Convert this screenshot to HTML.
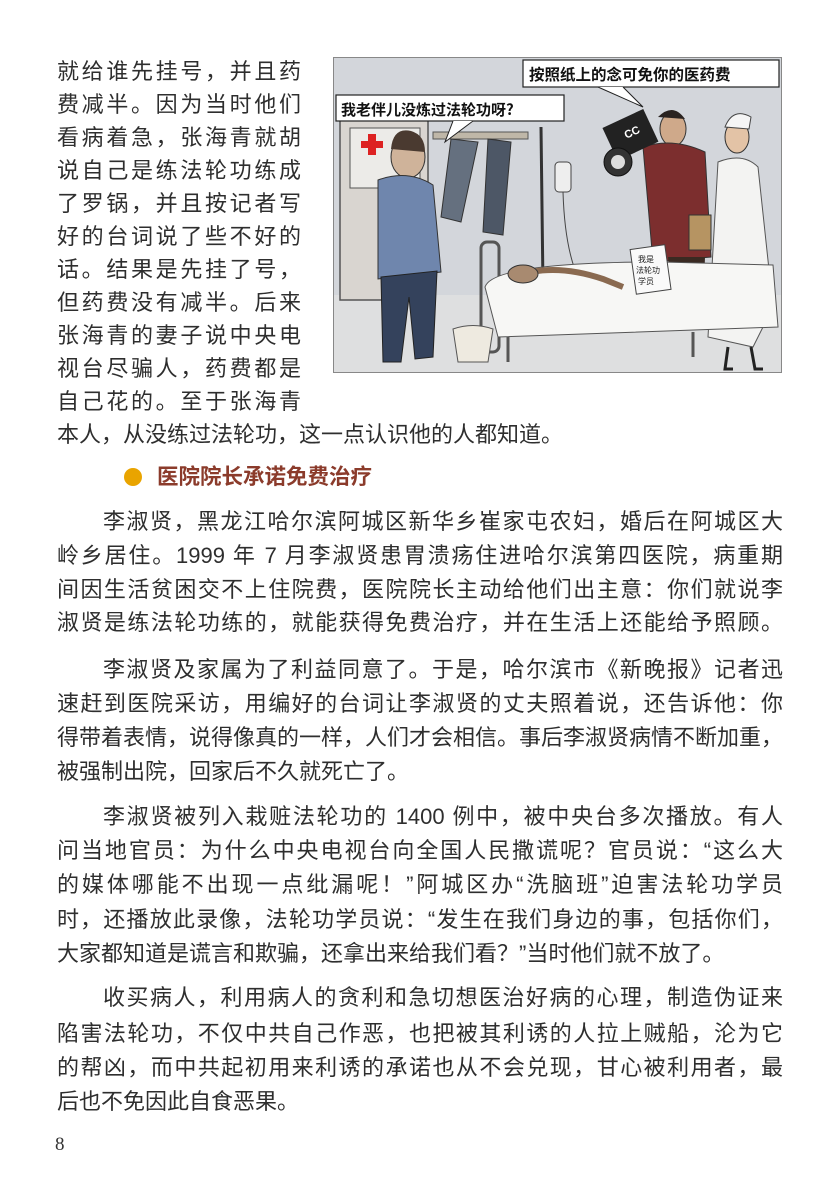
<!DOCTYPE html>
<html><head><meta charset="utf-8">
<style>
html,body{margin:0;padding:0;background:#fff;}
body{width:839px;height:1190px;position:relative;overflow:hidden;font-family:"Liberation Sans","Noto Sans CJK SC",sans-serif;color:#2e2e2e;}
.l{position:absolute;font-size:22px;line-height:26px;white-space:nowrap;}
.j{text-align:justify;text-align-last:justify;white-space:normal;}
.c{left:57px;width:244px;}
.f{left:57px;width:726px;}
.i{left:103px;width:680px;}
</style></head><body>
<div>
<div>
<div class="l c j" style="top:59px">就给谁先挂号，并且药</div>
<div class="l c j" style="top:92px">费减半。因为当时他们</div>
<div class="l c j" style="top:125px">看病着急，张海青就胡</div>
<div class="l c j" style="top:158px">说自己是练法轮功练成</div>
<div class="l c j" style="top:191px">了罗锅，并且按记者写</div>
<div class="l c j" style="top:224px">好的台词说了些不好的</div>
<div class="l c j" style="top:257px">话。结果是先挂了号，</div>
<div class="l c j" style="top:290px">但药费没有减半。后来</div>
<div class="l c j" style="top:323px">张海青的妻子说中央电</div>
<div class="l c j" style="top:356px">视台尽骗人，药费都是</div>
<div class="l c j" style="top:389px">自己花的。至于张海青</div>
</div>
<div class="l" style="top:422px;left:57px">本人，从没练过法轮功，这一点认识他的人都知道。</div>

<div style="position:absolute;left:123px;top:464px;height:26px;">
<span style="position:absolute;left:1px;top:4px;width:18px;height:18px;border-radius:50%;background:#e9a400;"></span>
<span style="position:absolute;left:34px;top:0;font-size:21.5px;line-height:26px;font-weight:bold;color:#8b3b2b;white-space:nowrap;">医院院长承诺免费治疗</span>
</div>

<div>
<div class="l i j" style="top:509px">李淑贤，黑龙江哈尔滨阿城区新华乡崔家屯农妇，婚后在阿城区大</div>
<div class="l f j" style="top:543px">岭乡居住。1999 年 7 月李淑贤患胃溃疡住进哈尔滨第四医院，病重期</div>
<div class="l f j" style="top:577px">间因生活贫困交不上住院费，医院院长主动给他们出主意：你们就说李</div>
<div class="l f j" style="top:610px">淑贤是练法轮功练的，就能获得免费治疗，并在生活上还能给予照顾。</div>
</div>
<div>
<div class="l i j" style="top:657px">李淑贤及家属为了利益同意了。于是，哈尔滨市《新晚报》记者迅</div>
<div class="l f j" style="top:691px">速赶到医院采访，用编好的台词让李淑贤的丈夫照着说，还告诉他：你</div>
<div class="l f j" style="top:725px">得带着表情，说得像真的一样，人们才会相信。事后李淑贤病情不断加重，</div>
<div class="l f" style="top:759px">被强制出院，回家后不久就死亡了。</div>
</div>
<div>
<div class="l i j" style="top:804px">李淑贤被列入栽赃法轮功的 1400 例中，被中央台多次播放。有人</div>
<div class="l f j" style="top:838px">问当地官员：为什么中央电视台向全国人民撒谎呢？官员说：“这么大</div>
<div class="l f j" style="top:872px">的媒体哪能不出现一点纰漏呢！”阿城区办“洗脑班”迫害法轮功学员</div>
<div class="l f j" style="top:907px">时，还播放此录像，法轮功学员说：“发生在我们身边的事，包括你们，</div>
<div class="l f" style="top:941px">大家都知道是谎言和欺骗，还拿出来给我们看？”当时他们就不放了。</div>
</div>
<div>
<div class="l i j" style="top:985px">收买病人，利用病人的贪利和急切想医治好病的心理，制造伪证来</div>
<div class="l f j" style="top:1021px">陷害法轮功，不仅中共自己作恶，也把被其利诱的人拉上贼船，沦为它</div>
<div class="l f j" style="top:1055px">的帮凶，而中共起初用来利诱的承诺也从不会兑现，甘心被利用者，最</div>
<div class="l f" style="top:1089px">后也不免因此自食恶果。</div>
</div>
<div style="position:absolute;left:55px;top:1134px;font-family:'Liberation Serif',serif;font-size:19px;color:#333;">8</div>

<svg style="position:absolute;left:333px;top:57px" width="449" height="316" viewBox="0 0 449 316">
<rect x="0" y="0" width="449" height="316" fill="#d3d6db"/>
<rect x="0" y="238" width="449" height="78" fill="#dedfe0"/>
<rect x="7" y="63" width="88" height="180" fill="#d9d5d0" stroke="#555" stroke-width="1.5"/>
<rect x="17" y="71" width="70" height="60" fill="#ecebe8" stroke="#555"/>
<rect x="28" y="84" width="22" height="7" fill="#d22"/><rect x="35" y="77" width="8" height="21" fill="#d22"/>
<rect x="100" y="75" width="95" height="7" fill="#bfb7a8" stroke="#555"/>
<path d="M118 82 L108 160 L128 165 L145 85 Z" fill="#65707f" stroke="#333"/>
<path d="M155 82 L150 175 L170 178 L178 85 Z" fill="#4d5766" stroke="#333"/>
<line x1="208" y1="70" x2="210" y2="230" stroke="#333" stroke-width="3"/>
<rect x="222" y="105" width="16" height="30" rx="4" fill="#eee" stroke="#444"/>
<path d="M230 135 Q232 200 250 230" fill="none" stroke="#444"/>
<g>
<ellipse cx="75" cy="100" rx="17" ry="21" fill="#cfb39a" stroke="#333"/>
<path d="M58 92 Q60 70 78 74 Q92 78 92 95" fill="#4a3a30"/>
<path d="M45 123 Q75 112 100 128 L108 215 L45 222 Z" fill="#6f86ad" stroke="#333"/>
<path d="M48 220 L104 214 L100 300 L82 302 L76 240 L68 305 L50 305 Z" fill="#34425c" stroke="#222"/>
</g>
<g>
<ellipse cx="340" cy="72" rx="13" ry="17" fill="#cfa98a" stroke="#333"/>
<path d="M325 60 Q340 45 352 62 Z" fill="#2a2320"/>
<path d="M310 90 Q340 80 372 95 L378 200 L320 205 Z" fill="#7c2e2e" stroke="#333"/>
<path d="M335 200 L372 200 L370 250 L340 250 Z" fill="#3a2a22"/>
<rect x="275" y="60" width="45" height="36" fill="#222" transform="rotate(-25 297 78)"/>
<circle cx="285" cy="105" r="14" fill="#333" stroke="#111"/><circle cx="285" cy="105" r="7" fill="#ddd"/>
<text x="292" y="80" font-size="11" fill="#fff" font-weight="bold" transform="rotate(-25 297 78)">CC</text>
<rect x="356" y="158" width="22" height="35" fill="#b69462" stroke="#333"/>
</g>
<g>
<ellipse cx="404" cy="80" rx="12" ry="16" fill="#e3c3a6" stroke="#333"/>
<path d="M392 70 Q400 50 418 60 L416 72 Z" fill="#f5f5f5" stroke="#444"/>
<path d="M385 105 Q410 95 425 110 L440 250 L420 290 L375 280 Z" fill="#f3f3f2" stroke="#555"/>
<path d="M395 290 L392 312 L400 312 M418 290 L422 312 L430 312" stroke="#222" stroke-width="3" fill="none"/>
</g>
<g>
<rect x="148" y="185" width="18" height="110" rx="6" fill="none" stroke="#555" stroke-width="3"/>
<path d="M152 230 Q160 205 330 205 L440 208 L445 270 L165 280 Z" fill="#f7f7f5" stroke="#555"/>
<path d="M180 220 Q220 205 270 222 L290 230" fill="none" stroke="#8a6a50" stroke-width="6"/>
<ellipse cx="190" cy="217" rx="15" ry="9" fill="#a88a70" stroke="#333"/>
<rect x="300" y="190" width="35" height="45" fill="#fafafa" stroke="#444" transform="rotate(-8 317 212)"/>
<text x="305" y="205" font-size="8" fill="#222" font-family="Noto Sans CJK SC,sans-serif">我是</text>
<text x="303" y="216" font-size="8" fill="#222" font-family="Noto Sans CJK SC,sans-serif">法轮功</text>
<text x="305" y="227" font-size="8" fill="#222" font-family="Noto Sans CJK SC,sans-serif">学员</text>
<line x1="175" y1="280" x2="175" y2="305" stroke="#555" stroke-width="3"/>
<line x1="360" y1="275" x2="360" y2="300" stroke="#555" stroke-width="3"/>
<path d="M120 272 Q140 265 160 272 L155 305 L125 305 Z" fill="#eeeae0" stroke="#555"/>
</g>
<g>
<rect x="3" y="38" width="228" height="26" fill="#fff" stroke="#222" stroke-width="1.2"/>
<path d="M120 64 L112 85 L140 64" fill="#fff" stroke="#222"/>
<text x="8" y="58" font-size="15" font-weight="bold" fill="#111" font-family="Noto Sans CJK SC,sans-serif">我老伴儿没炼过法轮功呀?</text>
</g>
<g>
<rect x="190" y="3" width="256" height="27" fill="#fff" stroke="#222" stroke-width="1.2"/>
<path d="M265 30 L310 50 L290 30" fill="#fff" stroke="#222"/>
<text x="196" y="23" font-size="15.5" font-weight="bold" fill="#111" font-family="Noto Sans CJK SC,sans-serif">按照纸上的念可免你的医药费</text>
</g>
<rect x="0.5" y="0.5" width="448" height="315" fill="none" stroke="#888"/>
</svg>
</div>
</body></html>
